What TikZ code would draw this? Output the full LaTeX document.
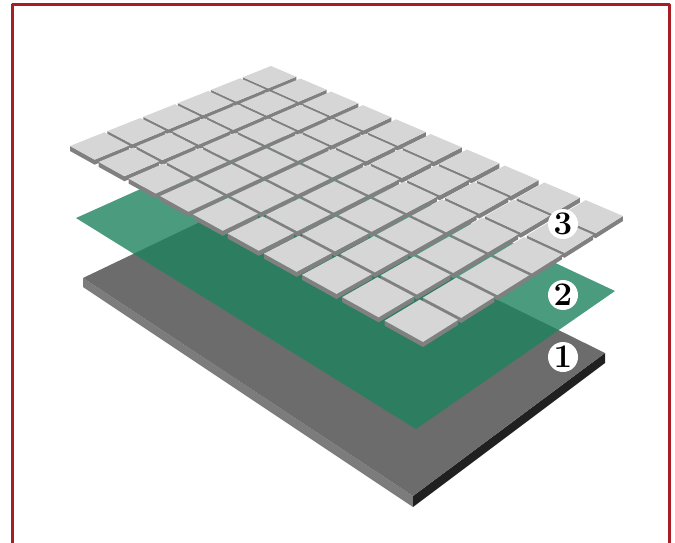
\documentclass[tikz,border=0pt]{standalone}
\definecolor{framered}{HTML}{A81C24}
\definecolor{platetop}{HTML}{6B6C6B}
\definecolor{plateleft}{HTML}{7C7C7C}
\definecolor{plateright}{HTML}{202020}
\definecolor{filmgreen}{RGB}{30,130,95}
\definecolor{tiletop}{HTML}{D6D6D6}
\definecolor{tileside}{HTML}{808080}
\tikzset{
	layerbadge/.style={circle,fill=white,minimum size=30pt,inner sep=0pt,font=\fontsize{33}{33}\selectfont\bfseries},
}
\begin{document}
\begin{tikzpicture}[x=1pt,y=-1pt,line join=round,declare function={
		tw(\u,\v)=1-0.1917*\u-0.11145*\v;
		tx(\u,\v)=(232.57*\u-208.80*\v+271)/tw(\u,\v);
		ty(\u,\v)=(108.59*\u+63.73*\v+66)/tw(\u,\v);
		gp=0.014;th=5;}]
	\useasboundingbox (0,0) rectangle (675,543);
	% frame, open at the bottom
	\draw[framered,line width=3pt] (12,543) -- (12,5) -- (669,5) -- (669,543);
	% base plate
	\coordinate (pl) at (83,278);
	\coordinate (pb) at (413,496);
	\coordinate (pr) at (605,353);
	\coordinate (pt) at (271,188);
	\fill[plateleft] (pl) -- (pb) -- ++(0,11) -- (83,287) -- cycle;
	\fill[plateright] (pb) -- (pr) -- ++(0,10) -- (413,507) -- cycle;
	\fill[platetop] (pl) -- (pb) -- (pr) -- (pt) -- cycle;
	% green film
	\fill[filmgreen,opacity=.8] (76,218) -- (416,429) -- (615,291) -- (272,130) -- cycle;
	% tiles, back to front
	\foreach \i in {0,...,9}{
		\foreach \j in {0,...,5}{
			\pgfmathsetmacro\ua{\i*(1+gp)/10}
			\pgfmathsetmacro\ub{\ua+(1+gp)/10-gp}
			\pgfmathsetmacro\va{\j*(1+gp)/6}
			\pgfmathsetmacro\vb{\va+(1+gp)/6-gp}
			\coordinate (tn) at ({tx(\ua,\va)},{ty(\ua,\va)});
			\coordinate (te) at ({tx(\ub,\va)},{ty(\ub,\va)});
			\coordinate (ts) at ({tx(\ub,\vb)},{ty(\ub,\vb)});
			\coordinate (tw) at ({tx(\ua,\vb)},{ty(\ua,\vb)});
			\fill[tileside] (tw) -- (ts) -- (te) -- ++(0,th) -- ([yshift=-th]ts) -- ([yshift=-th]tw) -- cycle;
			\fill[tiletop] (tn) -- (te) -- (ts) -- (tw) -- cycle;
		}
	}
	% numbers
	\node[layerbadge] (badgeC) at (563,224) {3};
	\node[layerbadge] (badgeB) at (563,295) {2};
	\node[layerbadge] (badgeA) at (563,357) {1};
\end{tikzpicture}
\end{document}
